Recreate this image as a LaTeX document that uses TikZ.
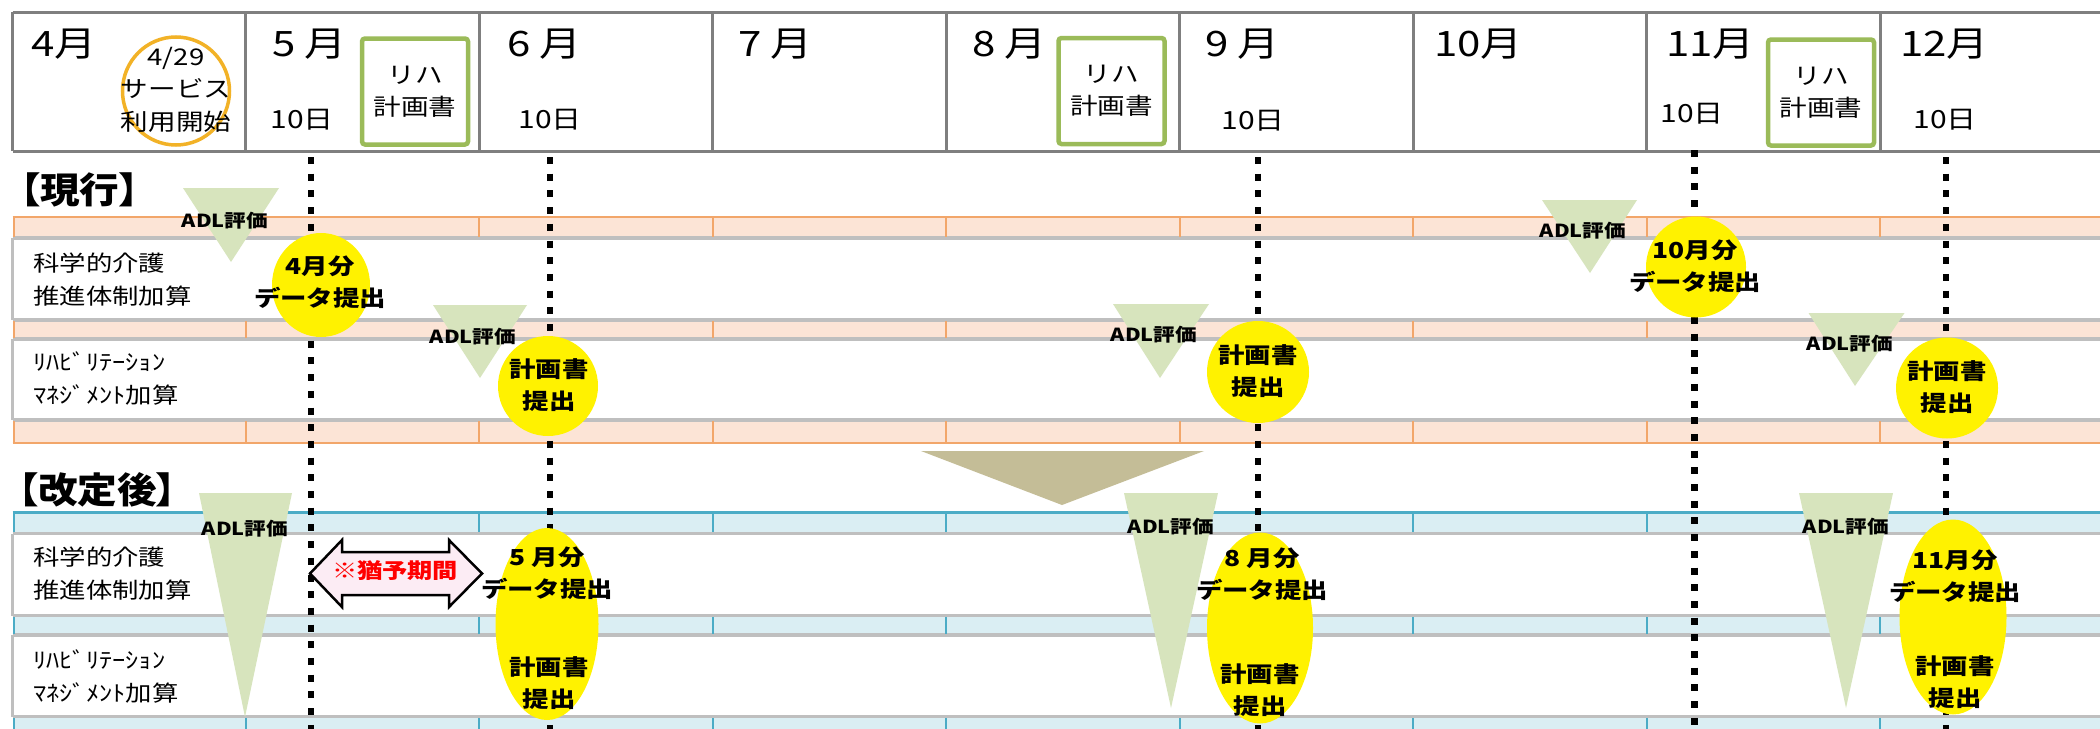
\documentclass[tikz,border=0pt]{standalone}
\usepackage{fontspec}
\setmainfont{Noto Sans CJK JP}[FakeStretch=1.2]
\newfontfamily\ttlfont{Noto Sans CJK JP}[FakeStretch=1.1,RawFeature=+palt]
\usetikzlibrary{shapes.geometric}
\definecolor{hdrgrey}{HTML}{7F7F7F}
\definecolor{gline}{HTML}{BFBFBF}
\definecolor{peach}{HTML}{FCE4D6}
\definecolor{orangeL}{HTML}{F2A66A}
\definecolor{lblue}{HTML}{DAEEF3}
\definecolor{blueL}{HTML}{4BACC6}
\definecolor{adlgreen}{HTML}{D7E4BD}
\definecolor{khaki}{HTML}{C4BD97}
\definecolor{rgreen}{HTML}{9BBB59}
\definecolor{circorange}{HTML}{F2B227}
\definecolor{arrowpink}{HTML}{FCECF4}
\begin{document}
\begin{tikzpicture}[x=1pt,y=-1pt,
  hdr/.style={draw=hdrgrey, line width=3pt},
  mon/.style={font=\fontsize{35}{40}\selectfont, anchor=west, inner sep=0pt},
  daylbl/.style={font=\fontsize{25}{30}\selectfont, inner sep=0pt},
  rihabox/.style={draw=rgreen, line width=4.5pt, rounded corners=3pt, minimum width=106pt, minimum height=106pt, align=center, font=\fontsize{23}{32}\selectfont, inner sep=0pt},
  startcirc/.style={ellipse, draw=circorange, line width=3.5pt, minimum width=107pt, minimum height=108pt, inner sep=0pt},
  starttxt/.style={align=center, inner sep=0pt, font=\fontsize{23}{32.5}\selectfont},
  rowlbl/.style={anchor=west, align=left, inner sep=0pt, font=\fontsize{22}{33}\selectfont},
  gl/.style={draw=gline, line width=3.5pt},
  ol/.style={draw=orangeL, line width=2.5pt},
  otick/.style={draw=orangeL, line width=2pt},
  bl/.style={draw=blueL, line width=3pt},
  btick/.style={draw=blueL, line width=2pt},
  adltri/.style={fill=adlgreen},
  adl/.style={font=\bfseries\fontsize{18}{20}\selectfont, inner sep=0pt},
  yel/.style={ellipse, fill=yellow, inner sep=0pt},
  etext/.style={align=center, inner sep=0pt, font=\bfseries\fontsize{22}{32}\selectfont},
  dotline/.style={line width=6.5pt, dash pattern=on 7pt off 9.7pt},
  secttl/.style={anchor=west, inner sep=0pt, font=\ttlfont\bfseries\fontsize{36}{40}\selectfont},
  yuyo/.style={fill=arrowpink, draw=black, line width=2.5pt, line join=miter},
  yuyotxt/.style={text=red, inner sep=0pt, font=\bfseries\fontsize{21}{24}\selectfont}
]
\useasboundingbox (0,0) rectangle (2100,728);
\clip (0,0) rectangle (2100,728);
\fill[white] (0,0) rectangle (2100,728);

% ---------- header ----------
\draw[hdr] (12.5,12) -- (2110,12);
\draw[hdr] (12.5,151) -- (2110,151);
\foreach \x in {12.5,245.9,479.4,712.8,946.3,1179.7,1413.1,1646.6,1880}
  \draw[hdr] (\x,12) -- (\x,151);

\node[mon] (m4) at (31,44) {4月};
\node[mon] (m5) at (272,44) {5 月};
\node[mon] (m6) at (507,44) {6 月};
\node[mon] (m7) at (738,44) {7 月};
\node[mon] (m8) at (972,44) {8 月};
\node[mon] (m9) at (1205,44) {9 月};
\node[mon] (m10) at (1434,44) {10月};
\node[mon] (m11) at (1666,44) {11月};
\node[mon] (m12) at (1900,44) {12月};

\node[daylbl] (d5) at (302,120) {10日};
\node[daylbl] (d6) at (550,120) {10日};
\node[daylbl] (d9) at (1253,121) {10日};
\node[daylbl] (d11) at (1692,114) {10日};
\node[daylbl] (d12) at (1945,120) {10日};

\node[startcirc] (sc) at (176,91) {};
\node[starttxt] (st) at (176,89.5) {4/29\\サービス\\利用開始};

\node[rihabox] (g5) at (415,91.5) {リハ\\計画書};
\node[rihabox] (g8) at (1111.5,91) {リハ\\計画書};
\node[rihabox] (g11) at (1821,92.5) {リハ\\計画書};

% ---------- current section bands ----------
\node[secttl] (gen) at (20,190) {【現行】};

\fill[peach] (12.5,217) rectangle (2110,238);
\fill[peach] (12.5,320) rectangle (2110,339);
\fill[peach] (12.5,420) rectangle (2110,443);
\foreach \y in {238,320,339,420} \draw[gl] (12.5,\y) -- (2110,\y);
\draw[gl] (12.5,238) -- (12.5,320);
\draw[gl] (12.5,339) -- (12.5,420);
\draw[ol] (12.5,217) -- (2110,217);
\draw[ol] (12.5,443) -- (2110,443);
\foreach \x in {13.5,245.9,479.4,712.8,946.3,1179.7,1413.1,1646.6,1880} {
  \draw[otick] (\x,217) -- (\x,237);
  \draw[otick] (\x,321) -- (\x,338);
  \draw[otick] (\x,421) -- (\x,443);
}

% ---------- revised section bands ----------
\node[secttl] (kai) at (18,490) {【改定後】};

\fill[lblue] (12.5,512) rectangle (2110,533.5);
\fill[lblue] (12.5,615.5) rectangle (2110,635);
\fill[lblue] (12.5,716.5) rectangle (2110,730);
\foreach \y in {533.5,615.5,635,716.5} \draw[gl] (12.5,\y) -- (2110,\y);
\draw[gl] (12.5,533.5) -- (12.5,615.5);
\draw[gl] (12.5,635) -- (12.5,716.5);
\draw[bl] (12.5,512) -- (2110,512);
\foreach \x in {13.5,245.9,479.4,712.8,946.3,1179.7,1413.1,1646.6,1880} {
  \draw[btick] (\x,512) -- (\x,532);
  \draw[btick] (\x,617) -- (\x,634);
  \draw[btick] (\x,718) -- (\x,730);
}

% row labels
\node[rowlbl] (r1) at (33,279.5) {科学的介護\\推進体制加算};
\node[rowlbl] (r2) at (33,379) {ﾘﾊﾋﾞﾘﾃｰｼｮﾝ\\ﾏﾈｼﾞﾒﾝﾄ加算};
\node[rowlbl] (r3) at (33,574) {科学的介護\\推進体制加算};
\node[rowlbl] (r4) at (33,676) {ﾘﾊﾋﾞﾘﾃｰｼｮﾝ\\ﾏﾈｼﾞﾒﾝﾄ加算};

% big transition triangle
\fill[khaki] (921,451) -- (1204,451) -- (1062,505) -- cycle;

% ADL triangles
\fill[adltri] (183,188) -- (279,188) -- (231,262) -- cycle;
\fill[adltri] (433,305) -- (527,305) -- (480,378) -- cycle;
\fill[adltri] (1113,304) -- (1209,304) -- (1160,378) -- cycle;
\fill[adltri] (1542,200) -- (1637,200) -- (1590,273) -- cycle;
\fill[adltri] (1808.5,313) -- (1904.5,313) -- (1855,386) -- cycle;
\fill[adltri] (199,493) -- (292,493) -- (245,717) -- cycle;
\fill[adltri] (1124,493) -- (1218,493) -- (1171,708) -- cycle;
\fill[adltri] (1799,493) -- (1893,493) -- (1846,708) -- cycle;

\node[adl] (a1) at (225,221) {ADL評価};
\node[adl] (a2) at (473,337) {ADL評価};
\node[adl] (a3) at (1154,335) {ADL評価};
\node[adl] (a4) at (1583,231) {ADL評価};
\node[adl] (a5) at (1850,344) {ADL評価};
\node[adl] (a6) at (245,529) {ADL評価};
\node[adl] (a7) at (1171,527) {ADL評価};
\node[adl] (a8) at (1846,527) {ADL評価};

% dotted deadline lines
\coordinate (l5t) at (311,157);   \coordinate (l5b) at (311,730);
\coordinate (l6t) at (550,157);   \coordinate (l6b) at (550,730);
\coordinate (l9t) at (1258,157);  \coordinate (l9b) at (1258,730);
\coordinate (l11t) at (1694.6,150); \coordinate (l11b) at (1694.6,730);
\coordinate (l12t) at (1946,157); \coordinate (l12b) at (1946,730);
\draw[dotline] (l5t) -- (l5b);
\draw[dotline] (l6t) -- (l6b);
\draw[dotline] (l9t) -- (l9b);
\draw[dotline] (l11t) -- (l11b);
\draw[dotline] (l12t) -- (l12b);

% yellow ellipses (current)
\node[yel, minimum width=98pt, minimum height=104pt] (e4) at (321,285) {};
\node[yel, minimum width=100pt, minimum height=100pt] (e6) at (548,386) {};
\node[yel, minimum width=102pt, minimum height=102pt] (e9) at (1258,372) {};
\node[yel, minimum width=100pt, minimum height=101pt] (e10) at (1696,267) {};
\node[yel, minimum width=102pt, minimum height=101pt] (e12) at (1947,388) {};
% yellow ellipses (revised)
\node[yel, minimum width=103pt, minimum height=192pt] (f6) at (547,624) {};
\node[yel, minimum width=106pt, minimum height=191pt] (f9) at (1260,628) {};
\node[yel, minimum width=107pt, minimum height=195pt] (f12) at (1953,617) {};

\node[etext] (te4) at (320,282.5) {4月分\\データ提出};
\node[etext] (te6) at (549,385) {計画書\\提出};
\node[etext] (te9) at (1258,371.5) {計画書\\提出};
\node[etext] (te10) at (1695,266.5) {10月分\\データ提出};
\node[etext] (te12) at (1947,387.5) {計画書\\提出};

\node[etext] (tf6a) at (547,573) {5 月分\\データ提出};
\node[etext] (tf6b) at (549,683.5) {計画書\\提出};
\node[etext] (tf9a) at (1262,574) {8 月分\\データ提出};
\node[etext] (tf9b) at (1260,690) {計画書\\提出};
\node[etext] (tf12a) at (1955,576.5) {11月分\\データ提出};
\node[etext] (tf12b) at (1955,682.5) {計画書\\提出};

% grace period double arrow
\filldraw[yuyo] (310,573.5) -- (342,540) -- (342,552) -- (449,552) -- (449,540)
  -- (482,573.5) -- (449,607) -- (449,595) -- (342,595) -- (342,607) -- cycle;
\node[yuyotxt] (yt) at (395,571) {※猶予期間};
\end{tikzpicture}
\end{document}
